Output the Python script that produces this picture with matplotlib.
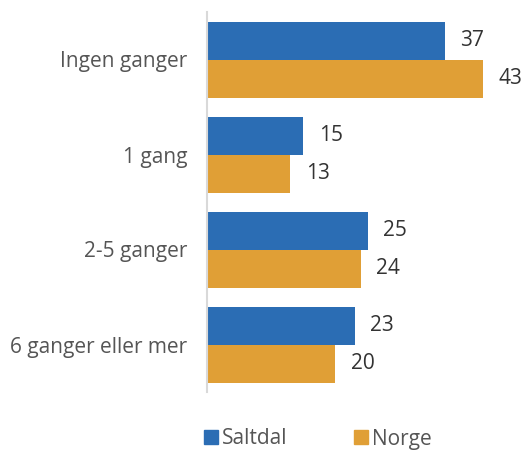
import numpy as np
import matplotlib.pyplot as plt
from matplotlib.patches import Patch

categories = ["Ingen ganger", "1 gang", "2-5 ganger", "6 ganger eller mer"]
saltdal = [37, 15, 25, 23]
norge = [43, 13, 24, 20]
series_names = ["Saltdal", "Norge"]

blue = "#2b6db4"
orange = "#e09f36"
grey = "#555555"

plt.rcParams['font.family'] = ['Open Sans', 'DejaVu Sans']

fig = plt.figure(figsize=(5.28, 4.53), dpi=100)
ax = fig.add_axes([207/528, 1-392/453, 1-207/528, 380/453])

y = np.arange(len(categories))
h = 0.4
ax.barh(y - h/2, saltdal, height=h, color=blue)
ax.barh(y + h/2, norge, height=h, color=orange)

for yi, v in zip(y, saltdal):
    ax.text(v + 2.4, yi - h/2, str(v), va='center', ha='left', fontsize=15, color='#333333')
for yi, v in zip(y, norge):
    ax.text(v + 2.4, yi + h/2, str(v), va='center', ha='left', fontsize=15, color='#333333')

ax.set_ylim(3.5, -0.5)
ax.set_xlim(0, 50)
ax.set_yticks(y)
ax.set_yticklabels(categories, fontsize=15, color=grey)
ax.tick_params(axis='y', length=0, pad=14)
ax.set_xticks([])
for s in ['top', 'right', 'bottom']:
    ax.spines[s].set_visible(False)
ax.spines['left'].set_color('#d9d9d9')
ax.spines['left'].set_linewidth(1.5)

handles = [Patch(color=blue), Patch(color=orange)]
leg = fig.legend(handles, series_names, loc='center', bbox_to_anchor=(318/528, 1-439/453),
                 ncol=2, frameon=False, fontsize=15, handlelength=0.65, handleheight=0.65,
                 handletextpad=0.2, columnspacing=3.2, borderpad=0)
for t in leg.get_texts():
    t.set_color(grey)

fig.savefig("out.png", dpi=100)
